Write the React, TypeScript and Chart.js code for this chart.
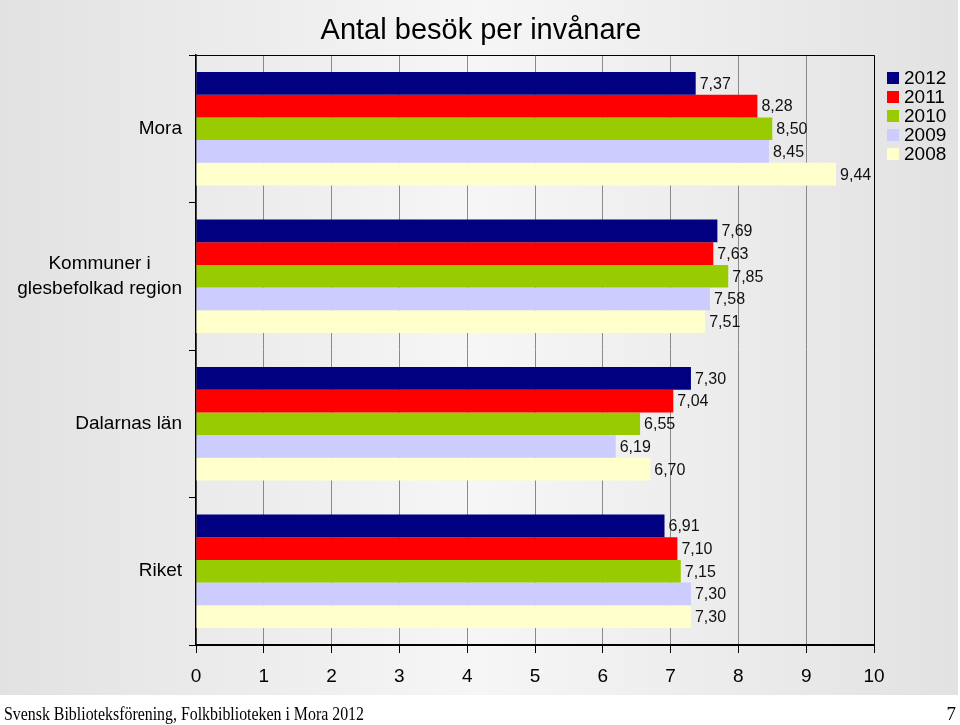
import React, { useEffect, useRef } from "react";
import { Chart, registerables } from "chart.js";

Chart.register(...registerables);

const categories: string[][] = [
  ["Mora"],
  ["Kommuner i", "glesbefolkad region"],
  ["Dalarnas län"],
  ["Riket"],
];
const seriesNames = ["2012", "2011", "2010", "2009", "2008"];
const seriesColors = ["#000080", "#ff0000", "#99cc00", "#ccccff", "#ffffcc"];
const values2012 = [7.37, 7.69, 7.3, 6.91];
const values2011 = [8.28, 7.63, 7.04, 7.1];
const values2010 = [8.5, 7.85, 6.55, 7.15];
const values2009 = [8.45, 7.58, 6.19, 7.3];
const values2008 = [9.44, 7.51, 6.7, 7.3];
const xTicks = [0, 1, 2, 3, 4, 5, 6, 7, 8, 9, 10];
const titleText = "Antal besök per invånare";
const footerText = "Svensk Biblioteksförening, Folkbiblioteken i Mora 2012";
const pageNumber = "7";

const SANS = "Arial, 'Liberation Sans', sans-serif";
const SERIF = "'Liberation Serif', 'DejaVu Serif', serif";

const decorPlugin = {
  id: "decor",
  beforeDraw(chart: any) {
    const ctx = chart.ctx;
    ctx.save();
    ctx.fillStyle = "#ffffff";
    ctx.fillRect(0, 0, chart.width, chart.height);
    const g = ctx.createLinearGradient(0, 0, 958, 0);
    g.addColorStop(0, "#e2e2e2");
    g.addColorStop(0.5, "#f6f6f6");
    g.addColorStop(1, "#e2e2e2");
    ctx.fillStyle = g;
    ctx.fillRect(0, 0, 958, 695);
    ctx.restore();
  },
  afterDatasetsDraw(chart: any) {
    const ctx = chart.ctx;
    const area = chart.chartArea;
    ctx.save();
    // frame top / right
    ctx.strokeStyle = "#000";
    ctx.lineWidth = 1;
    ctx.beginPath();
    ctx.moveTo(area.left, area.top + 0.5);
    ctx.lineTo(area.right + 0.5, area.top + 0.5);
    ctx.lineTo(area.right + 0.5, area.bottom);
    ctx.stroke();

    // value labels
    ctx.font = `16px ${SANS}`;
    ctx.fillStyle = "#111";
    ctx.textAlign = "left";
    ctx.textBaseline = "middle";
    chart.data.datasets.forEach((ds: any, di: number) => {
      const meta = chart.getDatasetMeta(di);
      meta.data.forEach((el: any, i: number) => {
        const v = ds.data[i] as number;
        ctx.fillText(v.toFixed(2).replace(".", ","), el.x + 4, el.y + 1);
      });
    });

    // category labels
    const yScale = chart.scales.y;
    ctx.font = `19px ${SANS}`;
    ctx.fillStyle = "#000";
    ctx.textAlign = "center";
    categories.forEach((lines, i) => {
      const cy = yScale.getPixelForValue(i);
      const maxW = Math.max(...lines.map((l) => ctx.measureText(l).width));
      const cx = 182 - maxW / 2;
      const lh = 25;
      lines.forEach((l, k) => {
        ctx.fillText(l, cx, cy + (k - (lines.length - 1) / 2) * lh);
      });
    });

    // legend
    ctx.textAlign = "left";
    ctx.font = `19px ${SANS}`;
    seriesNames.forEach((name, i) => {
      const cy = 78 + i * 19;
      ctx.fillStyle = seriesColors[i];
      ctx.fillRect(887, cy - 6, 12, 12);
      ctx.fillStyle = "#000";
      ctx.fillText(name, 904, cy + 1);
    });

    // title
    ctx.font = `29px ${SANS}`;
    ctx.textAlign = "center";
    ctx.fillStyle = "#000";
    ctx.fillText(titleText, 481, 31);

    // footer
    ctx.font = `19px ${SERIF}`;
    ctx.textAlign = "left";
    ctx.textBaseline = "alphabetic";
    const fw = ctx.measureText(footerText).width;
    ctx.save();
    ctx.translate(4, 720);
    ctx.scale(360 / fw, 1);
    ctx.fillText(footerText, 0, 0);
    ctx.restore();
    ctx.textAlign = "right";
    ctx.fillText(pageNumber, 956, 720);
    ctx.restore();
  },
};

export default function App() {
  const ref = useRef<HTMLCanvasElement | null>(null);
  useEffect(() => {
    if (!ref.current) return;
    const datasets = [values2012, values2011, values2010, values2009, values2008].map(
      (d, i) => ({
        label: seriesNames[i],
        data: d,
        backgroundColor: seriesColors[i],
        borderWidth: 0,
        categoryPercentage: 0.77,
        barPercentage: 1.0,
      })
    );
    const chart = new Chart(ref.current, {
      type: "bar",
      data: { labels: categories.map((c) => c.join(" ")), datasets },
      options: {
        indexAxis: "y",
        animation: false,
        responsive: false,
        maintainAspectRatio: false,
        layout: { padding: { top: 55, right: 86, bottom: 30, left: 0 } },
        plugins: {
          legend: { display: false },
          title: { display: false },
          tooltip: { enabled: false },
        },
        scales: {
          x: {
            min: 0,
            max: 10,
            afterFit: (s: any) => {
              s.height = 50;
            },
            afterBuildTicks: (s: any) => {
              s.ticks = xTicks.map((v) => ({ value: v }));
            },
            grid: {
              color: "#8a8a8a",
              lineWidth: 1,
              tickColor: "#000",
              tickLength: 8,
              drawOnChartArea: true,
            },
            border: { display: true, color: "#000", width: 2 },
            ticks: {
              padding: 12,
              color: "#000",
              font: { family: SANS, size: 19 },
              callback: (v: any) => String(v),
            },
          },
          y: {
            afterFit: (s: any) => {
              s.width = 196;
            },
            grid: {
              offset: true,
              drawOnChartArea: false,
              drawTicks: true,
              tickLength: 7,
              color: "#000",
              tickColor: "#000",
            },
            border: { display: true, color: "#000", width: 1.5 },
            ticks: { display: false },
          },
        },
      },
      plugins: [decorPlugin],
    });
    return () => chart.destroy();
  }, []);
  return (
    <div style={{ position: "fixed", left: 0, top: 0, width: 960, height: 725 }}>
      <canvas ref={ref} width={960} height={725} style={{ width: 960, height: 725, display: "block" }} />
    </div>
  );
}
